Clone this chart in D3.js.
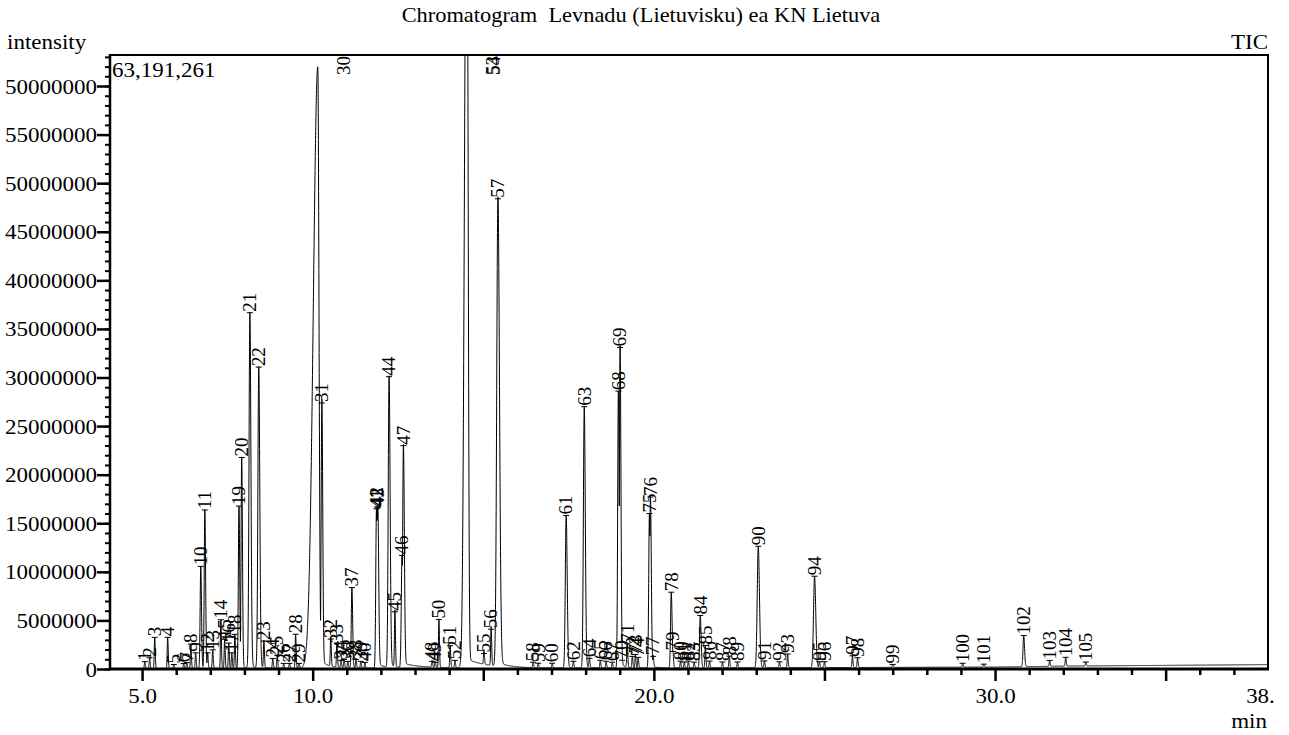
<!DOCTYPE html>
<html><head><meta charset="utf-8">
<script src="https://cdn.jsdelivr.net/npm/d3@7"></script>
<style>
body{margin:0;background:#fff}
text{font-family:"Liberation Serif","Times New Roman",serif;fill:#000;white-space:pre}
</style>
</head><body>
<svg id="c" width="1289" height="735"></svg>
<script>
// ---------------- DATA ----------------
const chartTitle = "Chromatogram  Levnadu (Lietuvisku) ea KN Lietuva";
const yAxisTitle = "intensity";
const traceName = "TIC";
const maxLabel = "63,191,261";
const xUnit = "min";
const yMax = 63191261;
const xDomain = [4.06, 38.0];

const peakLabels = ["1","2","3","4","5","6","7","8","9","10","11","12","13","14","15","16","17","18","19","20",
"21","22","23","24","25","26","27","28","29","30","31","32","33","34","35","36","37","38","39","40",
"41","42","43","44","45","46","47","48","49","50","51","52","53","54","55","56","57","58","59","60",
"61","62","63","64","65","66","67","68","69","70","71","72","73","74","75","76","77","78","79","80",
"81","82","83","84","85","86","87","88","89","90","91","92","93","94","95","96","97","98","99","100",
"101","102","103","104","105"];
const peakTimes = [5.08,5.22,5.37,5.75,5.93,6.22,6.31,6.43,6.57,6.72,6.84,6.92,7.07,7.31,7.42,7.54,7.63,7.72,7.84,7.92,
8.16,8.42,8.57,8.83,8.96,9.15,9.32,9.50,9.60,10.15,10.27,10.53,10.71,10.83,10.92,11.03,11.15,11.27,11.41,11.53,
11.87,11.89,11.91,12.24,12.41,12.62,12.66,13.50,13.59,13.70,14.03,14.17,14.50,14.53,15.02,15.23,15.43,16.46,16.61,17.02,
17.43,17.64,17.96,18.11,18.43,18.60,18.78,18.96,19.01,19.07,19.22,19.37,19.46,19.54,19.87,19.90,19.98,20.51,20.56,20.78,
20.89,21.01,21.18,21.36,21.51,21.63,22.01,22.21,22.45,23.06,23.24,23.68,23.92,24.71,24.85,25.00,25.82,25.97,27.00,29.05,
29.67,30.84,31.60,32.07,32.66];
const peakHeights = [0.7e6,1.1e6,3.2e6,3.2e6,0.4e6,0.5e6,0.6e6,2.5e6,1.6e6,10.5e6,16.3e6,1.6e6,1.9e6,5.0e6,3.0e6,2.6e6,1.6e6,3.5e6,16.7e6,21.7e6,
36.6e6,31.0e6,2.8e6,1.0e6,1.3e6,0.5e6,0.5e6,3.5e6,0.5e6,61.9e6,27.3e6,3.0e6,2.5e6,0.8e6,0.9e6,0.7e6,8.3e6,0.9e6,0.7e6,0.6e6,
16.4e6,16.6e6,16.5e6,30.0e6,5.8e6,11.6e6,22.9e6,0.7e6,0.6e6,5.0e6,2.3e6,0.8e6,78e6,76e6,1.5e6,4.0e6,48.3e6,0.6e6,0.5e6,0.5e6,
15.7e6,0.7e6,26.9e6,1.0e6,0.8e6,0.7e6,0.6e6,28.5e6,33.0e6,0.8e6,2.5e6,1.2e6,1.4e6,1.1e6,15.9e6,17.6e6,1.2e6,7.8e6,1.7e6,0.7e6,
0.6e6,0.7e6,0.6e6,5.4e6,2.3e6,0.7e6,0.6e6,1.2e6,0.6e6,12.5e6,0.7e6,0.6e6,1.4e6,9.4e6,0.6e6,0.6e6,1.2e6,1.0e6,0.3e6,0.4e6,
0.3e6,3.2e6,0.6e6,0.9e6,0.4e6];
// peak widths in minutes: [sigma left, sigma right, tail fraction, tail decay (min)]
const defaultShape = [0.013, 0.016, 0, 0];
const peakShapes = {
  "10":[0.018,0.022,0.008,0.1], "11":[0.018,0.022,0.008,0.1],
  "19":[0.018,0.022,0.008,0.1], "20":[0.018,0.022,0.008,0.1],
  "21":[0.025,0.03,0.01,0.12], "22":[0.025,0.03,0.01,0.12],
  "30":[0.13,0.035,0.01,0.3], "31":[0.02,0.025,0.01,0.15],
  "37":[0.018,0.022,0.005,0.1],
  "41":[0.02,0.025,0.01,0.2], "42":[0.02,0.025,0.01,0.2], "43":[0.02,0.025,0.01,0.2],
  "44":[0.025,0.03,0.012,0.2], "46":[0.022,0.027,0.01,0.5], "47":[0.022,0.027,0.015,0.6],
  "53":[0.055,0.03,0.006,0.6], "54":[0.055,0.03,0.006,0.6],
  "57":[0.035,0.045,0.008,0.3],
  "61":[0.025,0.03,0.008,0.15], "63":[0.025,0.03,0.008,0.15],
  "68":[0.02,0.025,0.008,0.15], "69":[0.02,0.025,0.008,0.15],
  "75":[0.02,0.025,0.008,0.15], "76":[0.02,0.025,0.008,0.15],
  "78":[0.02,0.025,0.005,0.1], "84":[0.02,0.025,0.005,0.1],
  "90":[0.03,0.035,0.005,0.15], "94":[0.03,0.035,0.005,0.15],
  "102":[0.02,0.025,0,0]
};
const baselineTimes  = [4.06, 10, 20, 25, 30, 32, 34, 36, 38];
const baselineValues = [0.05e6, 0.08e6, 0.1e6, 0.15e6, 0.2e6, 0.3e6, 0.35e6, 0.4e6, 0.45e6];

const yTickValues = [0,5e6,10e6,15e6,20e6,25e6,30e6,35e6,40e6,45e6,50e6,55e6,60e6];
const yTickLabels = ["0","5000000","10000000","15000000","20000000","25000000","30000000","35000000","40000000","45000000","50000000","55000000","50000000"];
const xTickValues = [5,10,20,30,38];
const xTickLabels = ["5.0","10.0","20.0","30.0","38."];

// ---------------- CHART ----------------
const M = {left:110, top:55, right:1268, bottom:669};
const svg = d3.select('#c');
const x = d3.scaleLinear().domain(xDomain).range([M.left, M.right]);
const y = d3.scaleLinear().domain([0, yMax]).range([M.bottom, M.top]);
const base = d3.scaleLinear().domain(baselineTimes).range(baselineValues).clamp(true);
const K = 1.15; // horizontal stretch of the serif text

function htext(str, px, py, anchor, size, k){
  return svg.append('text').text(str).attr('text-anchor', anchor)
    .attr('font-size', size)
    .attr('transform', `translate(${px},${py}) scale(${k||K},1)`);
}

const peaks = peakLabels.map((lab,i)=>{
  const s = peakShapes[lab] || defaultShape;
  return {lab, t:peakTimes[i], h:peakHeights[i], sL:s[0], sR:s[1], a:s[2], tau:s[3]};
});

// trace from the peak table
const step = 0.002;
const times = d3.range(xDomain[0], xDomain[1] + 1e-9, step);
const trace = times.map(t=>{
  let mx = 0, tl = 0;
  for (const p of peaks){
    const d = t - p.t;
    if (d > -6*p.sL && d < 6*p.sR){
      const s = d < 0 ? p.sL : p.sR;
      const v = p.h * Math.exp(-0.5*(d/s)*(d/s));
      if (v > mx) mx = v;
    }
    if (p.a && d > 0 && d < 10*p.tau){
      tl += p.h*p.a*Math.exp(-d/p.tau)*(1 - Math.exp(-0.5*(d/p.sR)*(d/p.sR)));
    }
  }
  return [t, base(t) + mx + tl];
});

svg.append('clipPath').attr('id','plot').append('rect')
  .attr('x', M.left).attr('y', M.top).attr('width', M.right-M.left).attr('height', M.bottom-M.top);

svg.append('path').datum(trace)
  .attr('clip-path','url(#plot)')
  .attr('fill','none').attr('stroke','#000').attr('stroke-width',1)
  .attr('d', d3.line().x(d=>x(d[0])).y(d=>y(d[1])));

// frame
svg.append('line').attr('x1',M.left).attr('x2',M.right).attr('y1',M.top).attr('y2',M.top).attr('stroke','#000').attr('stroke-width',2);
svg.append('line').attr('x1',M.right).attr('x2',M.right).attr('y1',M.top-1).attr('y2',M.bottom).attr('stroke','#000').attr('stroke-width',2);

// y axis
const yMinor = d3.range(0, yMax, 1e6);
const gyMinor = svg.append('g').attr('transform',`translate(${M.left},0)`)
  .call(d3.axisLeft(y).tickValues(yMinor).tickSize(5).tickFormat(''));
gyMinor.selectAll('line').attr('stroke-width',2);
gyMinor.select('.domain').remove();
const gy = svg.append('g').attr('transform',`translate(${M.left},0)`)
  .call(d3.axisLeft(y).tickValues(yTickValues).tickSize(13).tickPadding(0)
    .tickFormat((d,i)=>yTickLabels[i]));
gy.select('.domain').attr('stroke-width',2.5).attr('d',`M0,${M.top-1}V${M.bottom}`);
gy.selectAll('.tick line').attr('stroke-width',2.5);
gy.selectAll('.tick text').attr('font-size',20).attr('font-family','"Liberation Serif",serif')
  .attr('x',0).attr('dy',null).attr('fill','#000')
  .attr('transform',`translate(-13,7) scale(${K},1)`);

// x axis
const xMinor = d3.range(5, 38, 1);
const gxMinor = svg.append('g').attr('transform',`translate(0,${M.bottom})`)
  .call(d3.axisBottom(x).tickValues(xMinor).tickSize(6).tickFormat(''));
gxMinor.selectAll('.tick line').attr('stroke-width',2.5)
  .attr('y2', d => d % 5 === 0 ? 12 : 6);
gxMinor.select('.domain').remove();
const gx = svg.append('g').attr('transform',`translate(0,${M.bottom})`)
  .call(d3.axisBottom(x).tickValues(xTickValues).tickSize(0).tickPadding(0)
    .tickFormat((d,i)=>xTickLabels[i]));
gx.select('.domain').attr('stroke-width',3).attr('d',`M${M.left-1},0H${M.right+1}`);
gx.selectAll('.tick text').attr('font-size',20).attr('font-family','"Liberation Serif",serif')
  .attr('y',0).attr('dy',null).attr('fill','#000')
  .attr('transform',(d)=> d===38 ? `translate(-8,34) scale(${K},1)` : `translate(0,34) scale(${K},1)`);

// texts
htext(chartTitle, 641, 22, 'middle', 20, 1.12);
htext(yAxisTitle, 7, 49, 'start', 20);
htext(traceName, 1268, 49, 'end', 20);
htext(maxLabel, 112, 77, 'start', 20);
htext(xUnit, 1267, 728, 'end', 20);

// peak labels
const lg = svg.append('g');
peaks.forEach(p=>{
  const px = x(p.t);
  const top = y(base(p.t) + p.h);
  const t = lg.append('text').text(p.lab).attr('font-size',18).attr('dy','0.35em');
  const len = t.node().getComputedTextLength() * 1.05;
  if (top - 2 - len < M.top){
    t.attr('transform',`translate(${px+26},${M.top+len+1}) rotate(-90) scale(1.05,1)`);
  } else {
    lg.append('line').attr('x1',px-3).attr('x2',px+3).attr('y1',top).attr('y2',top)
      .attr('stroke','#000').attr('stroke-width',1);
    t.attr('transform',`translate(${px},${top-1}) rotate(-90) scale(1.05,1)`);
  }
});
</script>
</body></html>
